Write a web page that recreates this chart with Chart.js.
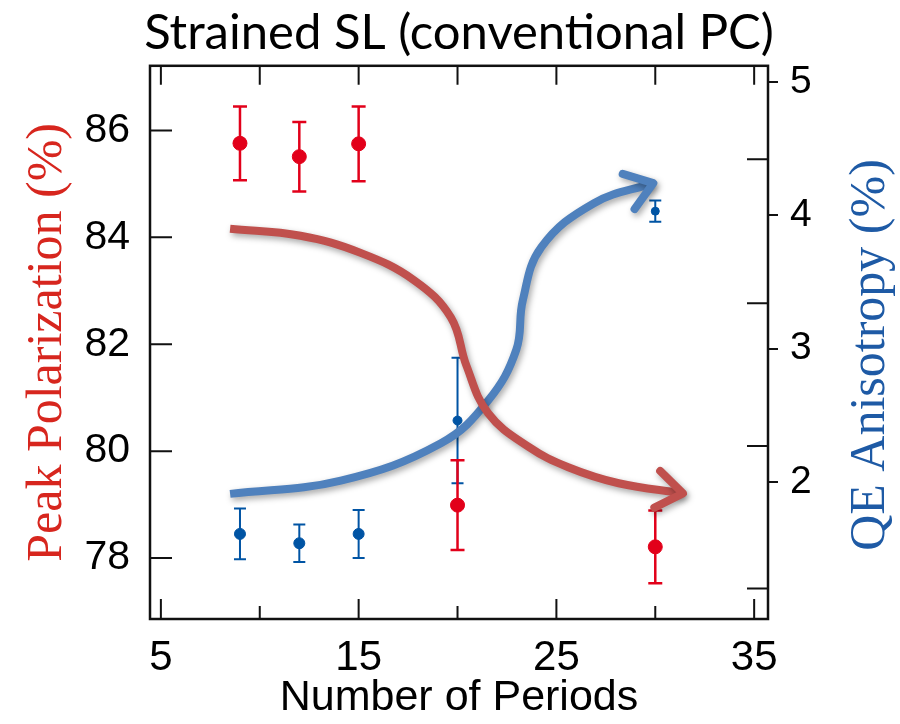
<!DOCTYPE html>
<html>
<head>
<meta charset="utf-8">
<script src="https://cdn.jsdelivr.net/npm/chart.js@4.4.1/dist/chart.umd.min.js"></script>
<style>
  body { margin: 0; background: #fff; }
</style>
</head>
<body>
<canvas id="chart" width="900" height="724"></canvas>
<script>
// measured values
const periods = [9, 12, 15, 20, 30];
const polarization = [85.76, 85.51, 85.75, 78.99, 78.21];
const polarizationErr = [0.69, 0.65, 0.70, 0.84, 0.68];
const anisotropy = [1.61, 1.54, 1.61, 2.46, 4.03];
const anisotropyErr = [0.19, 0.14, 0.18, 0.47, 0.08];

// trend arrows drawn over the data
const redArrowX = [8.5, 12.06, 15.1, 17.8, 19.67, 20.45, 21.55, 23.6, 25.6, 28.15, 31.4];
const redArrowY = [84.16, 84.03, 83.71, 83.2, 82.5, 81.6, 80.71, 80.08, 79.7, 79.4, 79.21];
const blueArrowX = [8.5, 14.1, 19.16, 21.55, 22.97, 23.3, 24.24, 26.9, 29.9];
const blueArrowY = [1.91, 2.01, 2.29, 2.61, 2.99, 3.36, 3.76, 4.09, 4.24];

// axes
const xTickLabels = [5, 15, 25, 35];
const xTickMarks = [5, 10, 15, 20, 25, 30, 35];
const leftTicks = [78, 80, 82, 84, 86];
const rightTicks = [2, 3, 4, 5];
const rightInnerTicks = [4.42, 3.34, 2.27, 1.2];

function pts(xs, ys) {
    return xs.map((x, i) => ({ x: x, y: ys[i] }));
}

const errorBars = {
    id: 'errorBars',
    beforeDatasetDraw(chart, args) {
        const ds = chart.data.datasets[args.index];
        if (!ds.errors) return;
        const ctx = chart.ctx;
        const xs = chart.scales.x;
        const ys = chart.scales[ds.yAxisID];
        ctx.save();
        ctx.strokeStyle = ds.borderColor;
        ctx.lineWidth = ds.errWidth;
        ds.data.forEach((p, i) => {
            const x = xs.getPixelForValue(p.x);
            const y1 = ys.getPixelForValue(p.y + ds.errors[i]);
            const y2 = ys.getPixelForValue(p.y - ds.errors[i]);
            ctx.beginPath();
            ctx.moveTo(x, y1); ctx.lineTo(x, y2);
            ctx.moveTo(x - ds.capSize, y1); ctx.lineTo(x + ds.capSize, y1);
            ctx.moveTo(x - ds.capSize, y2); ctx.lineTo(x + ds.capSize, y2);
            ctx.stroke();
        });
        ctx.restore();
    }
};

const arrows = {
    id: 'arrows',
    beforeDatasetDraw(chart, args) {
        const ds = chart.data.datasets[args.index];
        if (!ds.arrow) return;
        const ctx = chart.ctx;
        ctx.save();
        ctx.shadowColor = 'rgba(0,0,0,0.35)';
        ctx.shadowBlur = 6;
        ctx.shadowOffsetX = 2;
        ctx.shadowOffsetY = 3;
    },
    afterDatasetDraw(chart, args) {
        const ds = chart.data.datasets[args.index];
        if (!ds.arrow) return;
        const ctx = chart.ctx;
        const els = args.meta.data;
        const tip = els[els.length - 1];
        let bx = tip.cp1x, by = tip.cp1y;
        if (bx === undefined || (Math.abs(bx - tip.x) < 1 && Math.abs(by - tip.y) < 1)) {
            bx = els[els.length - 2].x; by = els[els.length - 2].y;
        }
        const ang = Math.atan2(tip.y - by, tip.x - bx);
        const len = 32, spread = 0.62;
        ctx.strokeStyle = ds.borderColor;
        ctx.lineWidth = ds.borderWidth;
        ctx.lineCap = 'round';
        ctx.lineJoin = 'round';
        ctx.beginPath();
        ctx.moveTo(tip.x + len * Math.cos(ang + Math.PI - spread), tip.y + len * Math.sin(ang + Math.PI - spread));
        ctx.lineTo(tip.x, tip.y);
        ctx.lineTo(tip.x + len * Math.cos(ang + Math.PI + spread), tip.y + len * Math.sin(ang + Math.PI + spread));
        ctx.stroke();
        ctx.restore();
    }
};

const frame = {
    id: 'frame',
    afterDraw(chart) {
        const ctx = chart.ctx;
        const a = chart.chartArea;
        const s = chart.scales;
        ctx.save();
        ctx.strokeStyle = '#111';
        ctx.lineWidth = 2.5;
        ctx.strokeRect(a.left, a.top, a.right - a.left, a.bottom - a.top);
        ctx.lineWidth = 2;
        ctx.beginPath();
        xTickMarks.forEach(v => {
            const x = s.x.getPixelForValue(v);
            const len = xTickLabels.includes(v) ? 20 : 13;
            ctx.moveTo(x, a.bottom); ctx.lineTo(x, a.bottom - len);
            ctx.moveTo(x, a.top); ctx.lineTo(x, a.top + 19);
        });
        leftTicks.forEach(v => {
            const y = s.yLeft.getPixelForValue(v);
            ctx.moveTo(a.left, y); ctx.lineTo(a.left + 22, y);
        });
        rightInnerTicks.forEach(v => {
            const y = s.yRight.getPixelForValue(v);
            ctx.moveTo(a.right, y); ctx.lineTo(a.right - 21, y);
        });
        ctx.stroke();

        // right axis title reads bottom to top, like the left one
        ctx.translate(871, 355);
        ctx.rotate(-Math.PI / 2);
        ctx.textAlign = 'center';
        ctx.textBaseline = 'middle';
        ctx.font = '50px "Liberation Serif"';
        ctx.fillStyle = 'rgb(30, 90, 165)';
        ctx.fillText('QE Anisotropy (%)', 0, 0);
        ctx.restore();
    }
};

const ctx = document.getElementById('chart').getContext('2d');
new Chart(ctx, {
    type: 'line',
    data: {
        datasets: [
            {
                data: pts(redArrowX, redArrowY),
                yAxisID: 'yLeft',
                borderColor: 'rgb(192, 80, 77)',
                borderWidth: 8,
                pointRadius: 0,
                tension: 0.4,
                arrow: true
            },
            {
                data: pts(blueArrowX, blueArrowY),
                yAxisID: 'yRight',
                borderColor: 'rgb(79, 129, 189)',
                borderWidth: 8,
                pointRadius: 0,
                tension: 0.4,
                arrow: true
            },
            {
                data: pts(periods, polarization),
                errors: polarizationErr,
                yAxisID: 'yLeft',
                showLine: false,
                borderColor: 'rgb(226, 0, 26)',
                backgroundColor: 'rgb(226, 0, 26)',
                pointRadius: 7,
                errWidth: 2.5,
                capSize: 7
            },
            {
                data: pts(periods, anisotropy),
                errors: anisotropyErr,
                yAxisID: 'yRight',
                showLine: false,
                borderColor: 'rgb(0, 84, 164)',
                backgroundColor: 'rgb(0, 84, 164)',
                pointRadius: [5.5, 5.5, 5.5, 4.5, 4],
                errWidth: 2,
                capSize: 6
            }
        ]
    },
    options: {
        responsive: false,
        animation: false,
        layout: { padding: { left: 18 } },
        plugins: {
            legend: { display: false },
            tooltip: { enabled: false },
            title: {
                display: true,
                text: 'Strained SL (conventional PC)',
                color: '#000',
                font: { family: 'Lato', size: 49, weight: 'normal' },
                padding: { top: 4, bottom: 3 }
            }
        },
        scales: {
            x: {
                type: 'linear',
                min: 4.45,
                max: 35.7,
                afterFit: s => { s.height = 105; },
                afterBuildTicks: s => { s.ticks = xTickLabels.map(v => ({ value: v })); },
                grid: { display: false },
                border: { display: false },
                ticks: {
                    color: '#000',
                    padding: 6,
                    font: { family: 'Liberation Sans', size: 42 }
                },
                title: {
                    display: true,
                    text: 'Number of Periods',
                    color: '#000',
                    font: { family: 'Liberation Sans', size: 43 },
                    padding: { bottom: 0 }
                }
            },
            yLeft: {
                type: 'linear',
                position: 'left',
                min: 76.86,
                max: 87.21,
                afterFit: s => { s.width = 132; },
                afterBuildTicks: s => { s.ticks = leftTicks.map(v => ({ value: v })); },
                grid: { display: false },
                border: { display: false },
                ticks: {
                    color: '#000',
                    padding: 12,
                    font: { family: 'Liberation Sans', size: 41 }
                },
                title: {
                    display: true,
                    text: 'Peak Polarization (%)',
                    color: 'rgb(215, 38, 30)',
                    font: { family: 'Liberation Serif', size: 50 },
                    padding: { top: 0 }
                }
            },
            yRight: {
                type: 'linear',
                position: 'right',
                min: 0.972,
                max: 5.12,
                afterFit: s => { s.width = 132; },
                afterBuildTicks: s => { s.ticks = rightTicks.map(v => ({ value: v })); },
                grid: {
                    drawOnChartArea: false,
                    drawTicks: true,
                    tickLength: 10,
                    color: '#111',
                    lineWidth: 2
                },
                border: { display: false },
                ticks: {
                    color: '#000',
                    padding: 12,
                    font: { family: 'Liberation Sans', size: 39 }
                }
            }
        }
    },
    plugins: [errorBars, arrows, frame]
});
</script>
</body>
</html>
